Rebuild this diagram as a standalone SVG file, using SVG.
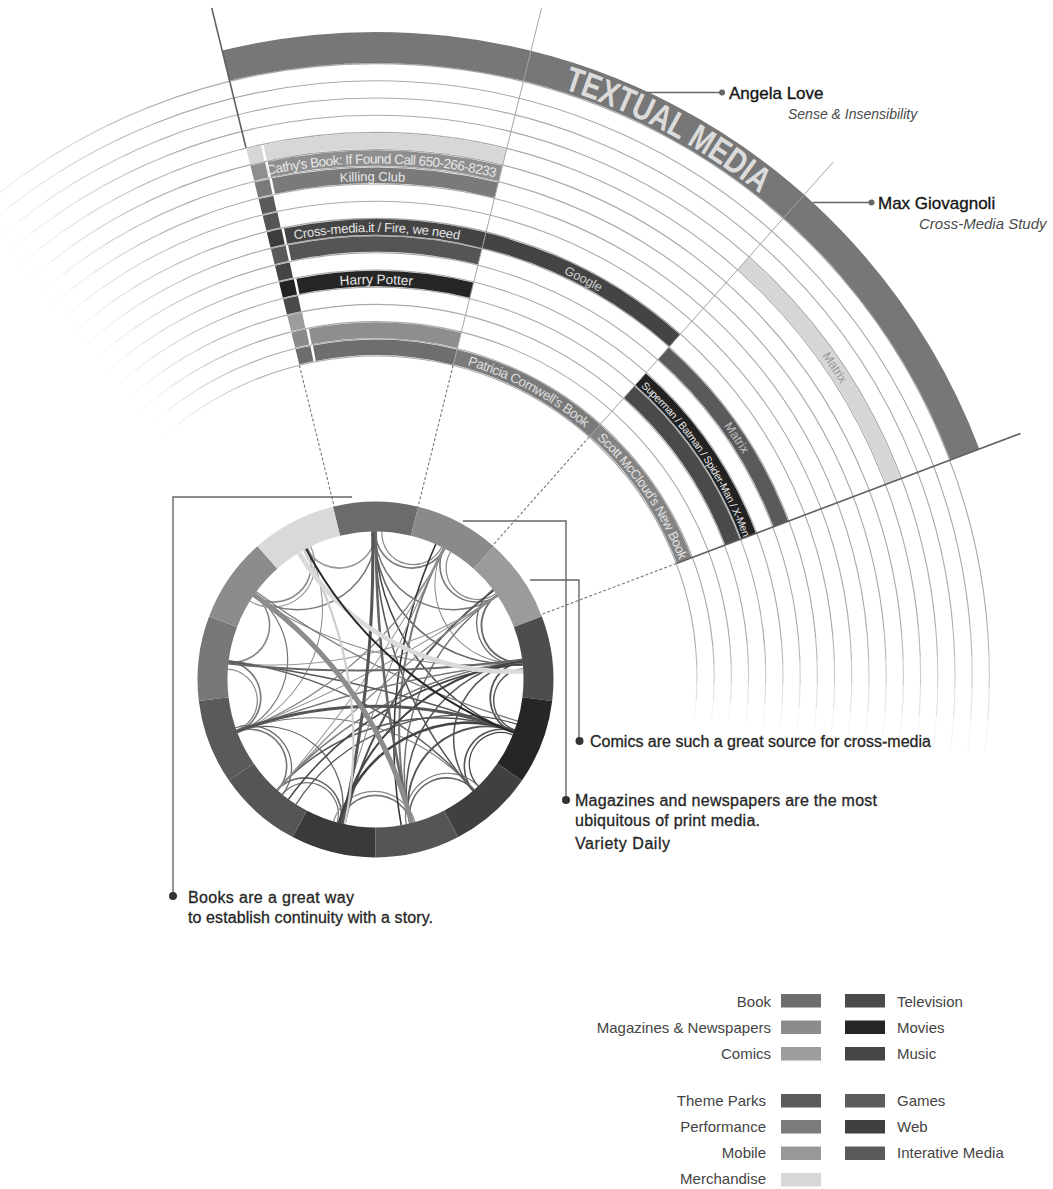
<svg xmlns="http://www.w3.org/2000/svg" width="1053" height="1189" viewBox="0 0 1053 1189">
<style>
.arc{fill:none;stroke:#a9a9a9;stroke-width:1.1}
.band{fill:none;stroke-width:15.6}
.lbl{font-family:"Liberation Sans",Arial,sans-serif;fill:#e4e4e4;font-size:13px}
.ann{font-family:"Liberation Sans",Arial,sans-serif;fill:#262626;font-size:16px;stroke:#262626;stroke-width:0.3}
.leg{font-family:"Liberation Sans",Arial,sans-serif;fill:#444;font-size:15px}
.cn{fill:none;stroke:#666;stroke-width:1.4}
.dash{fill:none;stroke:#777;stroke-width:1.1;stroke-dasharray:3 2}
.rad{fill:none;stroke:#a5a5a5;stroke-width:1}
.radd{fill:none;stroke:#606060;stroke-width:1.6}
.who{font-family:"Liberation Sans",Arial,sans-serif;font-size:17px;fill:#151515;stroke:#151515;stroke-width:0.35}
.src{font-family:"Liberation Sans",Arial,sans-serif;font-style:italic;fill:#4a4a4a}
</style>
<defs>
<mask id="fade" maskUnits="userSpaceOnUse" x="-300" y="-300" width="1700" height="1500">
<polygon fill="#fff" points="376,677 76.3,-64.8 376,-123 941.7,111.3 1173,607.2"/>
<polygon fill="#fff" fill-opacity="0.08" points="376,677 -148.9,73.2 -116.5,46.6"/>
<polygon fill="#fff" fill-opacity="0.2" points="376,677 -116.5,46.6 -82.9,21.6"/>
<polygon fill="#fff" fill-opacity="0.35" points="376,677 -82.9,21.6 -47.9,-1.4"/>
<polygon fill="#fff" fill-opacity="0.5" points="376,677 -47.9,-1.4 -11.9,-22.7"/>
<polygon fill="#fff" fill-opacity="0.65" points="376,677 -11.9,-22.7 25.3,-42"/>
<polygon fill="#fff" fill-opacity="0.82" points="376,677 25.3,-42 76.3,-64.8"/>
<polygon fill="#fff" fill-opacity="0.85" points="376,677 1173,607.2 1175.5,649.1"/>
<polygon fill="#fff" fill-opacity="0.6" points="376,677 1175.5,649.1 1175.9,691"/>
<polygon fill="#fff" fill-opacity="0.35" points="376,677 1175.9,691 1174,732.8"/>
<polygon fill="#fff" fill-opacity="0.12" points="376,677 1174,732.8 1170,774.5"/>
</mask>
<path id="tp617" d="M -241 677 A 617 617 0 1 1 993 677 A 617 617 0 1 1 -241 677"/>
<path id="tp513" d="M -137.5 677 A 513.5 513.5 0 1 1 889.5 677 A 513.5 513.5 0 1 1 -137.5 677"/>
<path id="tp497" d="M -120 677 A 496 496 0 1 1 872 677 A 496 496 0 1 1 -120 677"/>
<path id="tp445" d="M -69 677 A 445 445 0 1 1 821 677 A 445 445 0 1 1 -69 677"/>
<path id="tp393" d="M -17 677 A 393 393 0 1 1 769 677 A 393 393 0 1 1 -17 677"/>
<path id="tp325" d="M 51 677 A 325 325 0 1 1 701 677 A 325 325 0 1 1 51 677"/>
<path id="tp429" d="M -53 677 A 429 429 0 1 1 805 677 A 429 429 0 1 1 -53 677"/>
<path id="tp549" d="M -173.5 677 A 549.5 549.5 0 1 1 925.5 677 A 549.5 549.5 0 1 1 -173.5 677"/>
<path id="c24" fill="none" d="M -30.4 -142.8 A 31 31 0 0 0 30.4 -142.8"/>
<path id="c28" fill="none" d="M -35.3 -141.7 A 36.4 36.4 0 0 0 35.3 -141.7"/>
<path id="c32" fill="none" d="M -40.2 -140.3 A 41.9 41.9 0 0 0 40.2 -140.3"/>
<path id="c56" fill="none" d="M -68.5 -128.9 A 77.6 77.6 0 0 0 68.5 -128.9"/>
<path id="c84" fill="none" d="M -97.7 -108.5 A 131.5 131.5 0 0 0 97.7 -108.5"/>
<path id="c105" fill="none" d="M -115.8 -88.9 A 190.3 190.3 0 0 0 115.8 -88.9"/>
<path id="c111" fill="none" d="M -120.3 -82.7 A 212.4 212.4 0 0 0 120.3 -82.7"/>
<path id="c118" fill="none" d="M -125.1 -75.2 A 243 243 0 0 0 125.1 -75.2"/>
<path id="c132" fill="none" d="M -133.4 -59.4 A 327.9 327.9 0 0 0 133.4 -59.4"/>
<path id="c139" fill="none" d="M -136.8 -51.1 A 390.5 390.5 0 0 0 136.8 -51.1"/>
<path id="c146" fill="none" d="M -139.6 -42.7 A 477.6 477.6 0 0 0 139.6 -42.7"/>
<path id="c160" fill="none" d="M -143.8 -25.4 A 828 828 0 0 0 143.8 -25.4"/>
<path id="c166" fill="none" d="M -144.9 -17.8 A 1189 1189 0 0 0 144.9 -17.8"/>
<path id="seg" d="M -42.6 -172.8 A 178 178 0 0 1 42.6 -172.8 L 35.4 -143.7 A 148 148 0 0 0 -35.4 -143.7 Z"/>
</defs>
<rect width="1053" height="1189" fill="#fff"/>

<g id="rings" mask="url(#fade)" class="arc">
<circle cx="376" cy="677" r="321"/><circle cx="376" cy="677" r="338.2"/><circle cx="376" cy="677" r="355.4"/>
<circle cx="376" cy="677" r="372.6"/><circle cx="376" cy="677" r="389.8"/><circle cx="376" cy="677" r="407"/>
<circle cx="376" cy="677" r="424.2"/><circle cx="376" cy="677" r="441.4"/><circle cx="376" cy="677" r="458.6"/>
<circle cx="376" cy="677" r="475.8"/><circle cx="376" cy="677" r="493"/><circle cx="376" cy="677" r="510.2"/>
<circle cx="376" cy="677" r="527.4"/><circle cx="376" cy="677" r="544.6"/><circle cx="376" cy="677" r="561.8"/>
<circle cx="376" cy="677" r="579"/><circle cx="376" cy="677" r="596.2"/><circle cx="376" cy="677" r="613.4"/>
</g>

<g id="textual-media">
<circle cx="376" cy="677" r="629.5" fill="none" stroke="#777" stroke-width="31" stroke-dasharray="913 5000" transform="rotate(-103.8 376 677)"/>
<text font-family="Liberation Sans, Arial, sans-serif" font-size="35" font-weight="bold" fill="#dcdcdc" text-anchor="middle"><textPath href="#tp617" startOffset="1271.2" textLength="224" lengthAdjust="spacingAndGlyphs">TEXTUAL MEDIA</textPath></text>
</g>

<g id="sector-book">
<g transform="rotate(-103.8 376 677)">
<circle cx="376" cy="677" r="329.6" class="band" stroke="#6e6e6e" stroke-dasharray="0 17.5 141.85 5000"/>
<circle cx="376" cy="677" r="346.8" class="band" stroke="#8e8e8e" stroke-dasharray="0 17.5 150.16 5000"/>
<circle cx="376" cy="677" r="398.4" class="band" stroke="#262626" stroke-dasharray="0 17.5 175.11 5000"/>
<circle cx="376" cy="677" r="432.8" class="band" stroke="#555" stroke-dasharray="0 17.5 191.74 5000"/>
<circle cx="376" cy="677" r="450" class="band" stroke="#444" stroke-dasharray="0 17.5 417.6 5000"/>
<circle cx="376" cy="677" r="501.6" class="band" stroke="#7a7a7a" stroke-dasharray="0 17.5 225 5000"/>
<circle cx="376" cy="677" r="518.8" class="band" stroke="#8e8e8e" stroke-dasharray="0 17.5 233.32 5000"/>
<circle cx="376" cy="677" r="536" class="band" stroke="#d7d7d7" stroke-dasharray="0 17.5 241.63 5000"/>
</g>
<g id="squares" transform="rotate(-103.8 376 677)" stroke-dasharray="15 5000">
<circle cx="376" cy="677" r="329.6" class="band" stroke="#6e6e6e"/>
<circle cx="376" cy="677" r="346.8" class="band" stroke="#8a8a8a"/>
<circle cx="376" cy="677" r="364" class="band" stroke="#9c9c9c"/>
<circle cx="376" cy="677" r="381.2" class="band" stroke="#4a4a4a"/>
<circle cx="376" cy="677" r="398.4" class="band" stroke="#232323"/>
<circle cx="376" cy="677" r="415.6" class="band" stroke="#444"/>
<circle cx="376" cy="677" r="432.8" class="band" stroke="#5a5a5a"/>
<circle cx="376" cy="677" r="450" class="band" stroke="#3c3c3c"/>
<circle cx="376" cy="677" r="467.2" class="band" stroke="#555"/>
<circle cx="376" cy="677" r="484.4" class="band" stroke="#5a5a5a"/>
<circle cx="376" cy="677" r="501.6" class="band" stroke="#7a7a7a"/>
<circle cx="376" cy="677" r="518.8" class="band" stroke="#8f8f8f"/>
<circle cx="376" cy="677" r="536" class="band" stroke="#d6d6d6"/>
</g>
</g>

<g id="sector-magazines" transform="rotate(-76.1 376 677)">
<circle cx="376" cy="677" r="329.6" class="band" stroke="#7a7a7a" stroke-dasharray="159.35 5000"/>
</g>

<g id="sector-comics" transform="rotate(-48.4 376 677)">
<circle cx="376" cy="677" r="329.6" class="band" stroke="#838383" stroke-dasharray="159.35 5000"/>
<circle cx="376" cy="677" r="381.2" class="band" stroke="#4a4a4a" stroke-dasharray="184.3 5000"/>
<circle cx="376" cy="677" r="398.4" class="band" stroke="#222" stroke-dasharray="192.61 5000"/>
<circle cx="376" cy="677" r="432.8" class="band" stroke="#5a5a5a" stroke-dasharray="209.24 5000"/>
<circle cx="376" cy="677" r="553.2" class="band" stroke="#d6d6d6" stroke-dasharray="267.45 5000"/>
</g>

<g id="radial-lines">
<path class="radd" d="M 211.7 7.9 L 246 147.7"/>
<path class="rad" d="M 541.5 8.2 L 453.1 365.4"/>
<path class="rad" d="M 833.4 161.8 L 589.1 437"/>
<path class="radd" d="M 1020.5 433.5 L 676.3 563.5"/>
<path class="dash" d="M 299.4 365.3 L 334.3 507.1"/>
<path class="dash" d="M 453.1 365.4 L 418 507.1"/>
<path class="dash" d="M 589.1 437 L 492.2 546.1"/>
<path class="dash" d="M 676.3 563.5 L 539.7 615.1"/>
</g>

<g id="band-labels" class="lbl" text-anchor="middle">
<text font-size="13.5" fill="#e8e8e8"><textPath href="#tp513" startOffset="812" textLength="230">Cathy's Book: If Found Call 650-266-8233</textPath></text>
<text font-size="13" fill="#e8e8e8"><textPath href="#tp497" startOffset="775.6">Killing Club</textPath></text>
<text font-size="13"><textPath href="#tp445" startOffset="699.8" textLength="166">Cross-media.it / Fire, we need</textPath></text>
<text font-size="13.5"><textPath href="#tp393" startOffset="617.3">Harry Potter</textPath></text>
<text font-size="12.5" fill="#d0d0d0"><textPath href="#tp445" startOffset="912.6">Google</textPath></text>
<text font-size="13.5" fill="#dedede"><textPath href="#tp325" startOffset="669.9" textLength="134">Patricia Cornwell’s Book</textPath></text>
<text font-size="13" fill="#e2e2e2"><textPath href="#tp325" startOffset="827" textLength="148">Scott McCloud’s New Book</textPath></text>
<text font-size="10.5" fill="#e6e6e6"><textPath href="#tp393" startOffset="999.4" textLength="184">Superman / Batman / Spider-Man / X-Men</textPath></text>
<text font-size="12.5" fill="#bdbdbd"><textPath href="#tp429" startOffset="1096.2">Matrix</textPath></text>
<text font-size="12.5" fill="#999"><textPath href="#tp549" startOffset="1400.2">Matrix</textPath></text>
</g>

<g id="chords" transform="translate(375.5 679.5) scale(1.015)">
<use href="#c28" transform="rotate(13.85)" stroke="#777" stroke-width="1.6"/>
<use href="#c28" transform="rotate(41.54)" stroke="#777" stroke-width="1.6"/>
<use href="#c28" transform="rotate(69.23)" stroke="#6a6a6a" stroke-width="1.8"/>
<use href="#c28" transform="rotate(96.92)" stroke="#555" stroke-width="1.8"/>
<use href="#c28" transform="rotate(124.6)" stroke="#555" stroke-width="1.6"/>
<use href="#c28" transform="rotate(152.3)" stroke="#666" stroke-width="1.6"/>
<use href="#c28" transform="rotate(180)" stroke="#777" stroke-width="1.6"/>
<use href="#c28" transform="rotate(207.7)" stroke="#666" stroke-width="1.6"/>
<use href="#c28" transform="rotate(235.4)" stroke="#777" stroke-width="1.6"/>
<use href="#c28" transform="rotate(263.1)" stroke="#777" stroke-width="1.6"/>
<use href="#c28" transform="rotate(290.8)" stroke="#888" stroke-width="1.6"/>
<use href="#c28" transform="rotate(318.5)" stroke="#888" stroke-width="1.6"/>
<use href="#c28" transform="rotate(346.2)" stroke="#999" stroke-width="1.6"/>
<use href="#c24" transform="rotate(42.5)" stroke="#888" stroke-width="1.2"/>
<use href="#c24" transform="rotate(97.9)" stroke="#555" stroke-width="1.4"/>
<use href="#c24" transform="rotate(124)" stroke="#444" stroke-width="1.2"/>
<use href="#c24" transform="rotate(207)" stroke="#777" stroke-width="1.2"/>
<use href="#c24" transform="rotate(262)" stroke="#888" stroke-width="1.2"/>
<use href="#c24" transform="rotate(14.5)" stroke="#888" stroke-width="1.2"/>
<use href="#c32" transform="rotate(68.5)" stroke="#666" stroke-width="1.2"/>
<use href="#c32" transform="rotate(152)" stroke="#777" stroke-width="1.2"/>
<use href="#c32" transform="rotate(235)" stroke="#666" stroke-width="1.2"/>
<use href="#c32" transform="rotate(318)" stroke="#999" stroke-width="1.2"/>
<use href="#c32" transform="rotate(180.5)" stroke="#888" stroke-width="1.2"/>
<use href="#c56" transform="rotate(27.69)" stroke="#777" stroke-width="1.5"/>
<use href="#c56" transform="rotate(110.8)" stroke="#555" stroke-width="1.5"/>
<use href="#c56" transform="rotate(138.5)" stroke="#555" stroke-width="1.8"/>
<use href="#c56" transform="rotate(221.5)" stroke="#666" stroke-width="1.2"/>
<use href="#c56" transform="rotate(276.9)" stroke="#777" stroke-width="1.2"/>
<use href="#c56" transform="rotate(332.3)" stroke="#777" stroke-width="1.5"/>
<use href="#c56" transform="rotate(55.4)" stroke="#888" stroke-width="1"/>
<use href="#c84" transform="rotate(41.5)" stroke="#666" stroke-width="1.5"/>
<use href="#c84" transform="rotate(124.6)" stroke="#555" stroke-width="1.5"/>
<use href="#c84" transform="rotate(290.8)" stroke="#888" stroke-width="1"/>
<use href="#c105" transform="rotate(160)" stroke="#555" stroke-width="1.2"/>
<use href="#c111" transform="rotate(55.4)" stroke="#444" stroke-width="1.5"/>
<use href="#c111" transform="rotate(110.8)" stroke="#777" stroke-width="1.5"/>
<use href="#c111" transform="rotate(166.2)" stroke="#555" stroke-width="1.5"/>
<use href="#c111" transform="rotate(193.8)" stroke="#777" stroke-width="1"/>
<use href="#c132" transform="rotate(150)" stroke="#444" stroke-width="1.5"/>
<use href="#c139" transform="rotate(69.2)" stroke="#555" stroke-width="1.5"/>
<use href="#c139" transform="rotate(96.9)" stroke="#777" stroke-width="2"/>
<use href="#c139" transform="rotate(122.5)" stroke="#555" stroke-width="2"/>
<use href="#c139" transform="rotate(152.3)" stroke="#777" stroke-width="1.5"/>
<use href="#c139" transform="rotate(207.7)" stroke="#666" stroke-width="1.5"/>
<use href="#c139" transform="rotate(318.5)" stroke="#888" stroke-width="1.2"/>
<use href="#c139" transform="rotate(346.2)" stroke="#999" stroke-width="1"/>
<use href="#c139" transform="rotate(13.85)" stroke="#888" stroke-width="1"/>
<use href="#c146" transform="rotate(97)" stroke="#333" stroke-width="1.5"/>
<use href="#c160" transform="rotate(26.3)" stroke="#777" stroke-width="1.2"/>
<use href="#c166" transform="rotate(110.8)" stroke="#888" stroke-width="1"/>
<use href="#c166" transform="rotate(138.5)" stroke="#888" stroke-width="1.2"/>
<use href="#c166" transform="rotate(166.2)" stroke="#777" stroke-width="1.5"/>
<use href="#c166" transform="rotate(193.8)" stroke="#555" stroke-width="1.5"/>
<use href="#c166" transform="rotate(304.6)" stroke="#999" stroke-width="1"/>
<use href="#c166" transform="rotate(332.3)" stroke="#888" stroke-width="1"/>
<use href="#c166" transform="rotate(359.2)" stroke="#666" stroke-width="2"/>
<use href="#c166" transform="rotate(83.1)" stroke="#666" stroke-width="2.5"/>
<use href="#c166" transform="rotate(275.9)" stroke="#555" stroke-width="3"/>
<use href="#c84" transform="rotate(152.3)" stroke="#444" stroke-width="2.5"/>
<use href="#c111" transform="rotate(138.5)" stroke="#444" stroke-width="2"/>
<use href="#c139" transform="rotate(180)" stroke="#555" stroke-width="3"/>
<use href="#c139" transform="rotate(261.5)" stroke="#cfcfcf" stroke-width="2.2"/>
<use href="#c139" transform="rotate(235.4)" stroke="#8c8c8c" stroke-width="5"/>
<use href="#c118" transform="rotate(27.8)" stroke="#dadada" stroke-width="4.5"/>
<use href="#c139" transform="rotate(41.5)" stroke="#262626" stroke-width="2"/>
</g>

<g id="media-ring" transform="translate(375.5 679.5)">
<use href="#seg" fill="#6b6b6b"/>
<use href="#seg" transform="rotate(27.69)" fill="#8a8a8a"/>
<use href="#seg" transform="rotate(55.38)" fill="#9b9b9b"/>
<use href="#seg" transform="rotate(83.08)" fill="#4d4d4d"/>
<use href="#seg" transform="rotate(110.77)" fill="#262626"/>
<use href="#seg" transform="rotate(138.46)" fill="#404040"/>
<use href="#seg" transform="rotate(166.15)" fill="#555"/>
<use href="#seg" transform="rotate(193.85)" fill="#3a3a3a"/>
<use href="#seg" transform="rotate(221.54)" fill="#555"/>
<use href="#seg" transform="rotate(249.23)" fill="#5a5a5a"/>
<use href="#seg" transform="rotate(276.92)" fill="#777"/>
<use href="#seg" transform="rotate(304.62)" fill="#8c8c8c"/>
<use href="#seg" transform="rotate(332.31)" fill="#d9d9d9"/>
</g>

<g id="note-angela">
<path class="cn" d="M 647 92.5 L 722 92.5"/>
<circle cx="722" cy="92.5" r="3" fill="#666"/>
<text class="who" x="729" y="99">Angela Love</text>
<text class="src" x="788" y="118.5" font-size="14">Sense &amp; Insensibility</text>
</g>
<g id="note-max">
<path class="cn" d="M 813 202.5 L 871.5 202.5"/>
<circle cx="871.5" cy="202.5" r="3" fill="#666"/>
<text class="who" x="878" y="209">Max Giovagnoli</text>
<text class="src" x="919" y="228.5" font-size="15">Cross-Media Study</text>
</g>
<g id="note-books">
<polyline class="cn" points="352,497 173,497 173,896"/>
<circle cx="173" cy="896" r="4" fill="#333"/>
<text class="ann" x="188" y="903" textLength="166">Books are a great way</text>
<text class="ann" x="188" y="923" textLength="245">to establish continuity with a story.</text>
</g>
<g id="note-magazines">
<polyline class="cn" points="463,521 566,521 566,800"/>
<circle cx="566" cy="800" r="4" fill="#333"/>
<text class="ann" x="575" y="805.5" textLength="302">Magazines and newspapers are the most</text>
<text class="ann" x="575" y="825.5" textLength="185">ubiquitous of print media.</text>
<text class="ann" x="575" y="849" textLength="95" fill="#8a8a8a" stroke="#8a8a8a">Variety Daily</text>
</g>
<g id="note-comics">
<polyline class="cn" points="530,580 579,580 579,741"/>
<circle cx="579.5" cy="741" r="4" fill="#333"/>
<text class="ann" x="590" y="747" textLength="341">Comics are such a great source for cross-media</text>
</g>

<g id="legend">
<g class="leg" text-anchor="end">
<text x="771" y="1006.5">Book</text>
<text x="771" y="1032.5">Magazines &amp; Newspapers</text>
<text x="771" y="1058.5">Comics</text>
<text x="766" y="1106">Theme Parks</text>
<text x="766" y="1132">Performance</text>
<text x="766" y="1157.5">Mobile</text>
<text x="766" y="1183.5">Merchandise</text>
</g>
<g class="leg">
<text x="897" y="1006.5">Television</text>
<text x="897" y="1032.5">Movies</text>
<text x="897" y="1058.5">Music</text>
<text x="897" y="1106">Games</text>
<text x="897" y="1132">Web</text>
<text x="897" y="1157.5">Interative Media</text>
</g>
<rect x="781" y="994" width="40" height="13.5" fill="#6e6e6e"/>
<rect x="781" y="1020.5" width="40" height="13.5" fill="#8c8c8c"/>
<rect x="781" y="1047" width="40" height="13.5" fill="#9d9d9d"/>
<rect x="781" y="1094" width="40" height="13.5" fill="#5b5b5b"/>
<rect x="781" y="1120" width="40" height="13.5" fill="#7b7b7b"/>
<rect x="781" y="1146.5" width="40" height="13.5" fill="#989898"/>
<rect x="781" y="1173" width="40" height="13.5" fill="#d7d7d7"/>
<rect x="845" y="994" width="40" height="13.5" fill="#4b4b4b"/>
<rect x="845" y="1020.5" width="40" height="13.5" fill="#262626"/>
<rect x="845" y="1047" width="40" height="13.5" fill="#454545"/>
<rect x="845" y="1094" width="40" height="13.5" fill="#5c5c5c"/>
<rect x="845" y="1120" width="40" height="13.5" fill="#404040"/>
<rect x="845" y="1146.5" width="40" height="13.5" fill="#5a5a5a"/>
</g>
</svg>
